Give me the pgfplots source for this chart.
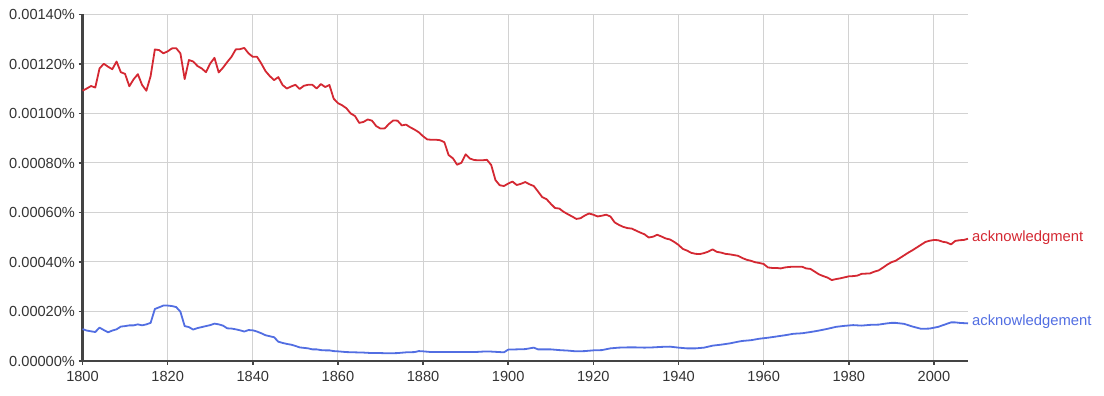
\documentclass[border=0pt]{standalone}
\usepackage{pgfplots}
\pgfplotsset{compat=1.18}
\usepackage{pgfplotstable}
\usepackage{fontspec}
\setmainfont{Liberation Sans}
\definecolor{ngred}{RGB}{212,40,50}
\definecolor{ngblue}{RGB}{82,110,226}
\definecolor{axisgray}{RGB}{68,68,68}
\definecolor{labelgray}{RGB}{51,51,51}
\definecolor{gridgray}{RGB}{210,210,210}

\pgfplotstableread{
year val
1800 0.001092
1801 0.001101
1802 0.001111
1803 0.001105
1804 0.001182
1805 0.001201
1806 0.001189
1807 0.001179
1808 0.001210
1809 0.001167
1810 0.001160
1811 0.001110
1812 0.001138
1813 0.001159
1814 0.001115
1815 0.001092
1816 0.001151
1817 0.001259
1818 0.001256
1819 0.001243
1820 0.001251
1821 0.001263
1822 0.001264
1823 0.001243
1824 0.001139
1825 0.001216
1826 0.001210
1827 0.001192
1828 0.001182
1829 0.001167
1830 0.001202
1831 0.001225
1832 0.001166
1833 0.001185
1834 0.001208
1835 0.001229
1836 0.001259
1837 0.001260
1838 0.001265
1839 0.001243
1840 0.001229
1841 0.001229
1842 0.001202
1843 0.001171
1844 0.001151
1845 0.001135
1846 0.001147
1847 0.001115
1848 0.001101
1849 0.001109
1850 0.001116
1851 0.001099
1852 0.001112
1853 0.001116
1854 0.001116
1855 0.001101
1856 0.001119
1857 0.001107
1858 0.001115
1859 0.001060
1860 0.001042
1861 0.001033
1862 0.001021
1863 0.001000
1864 0.000990
1865 0.000962
1866 0.000966
1867 0.000976
1868 0.000971
1869 0.000949
1870 0.000939
1871 0.000940
1872 0.000958
1873 0.000972
1874 0.000971
1875 0.000952
1876 0.000955
1877 0.000944
1878 0.000935
1879 0.000924
1880 0.000908
1881 0.000895
1882 0.000894
1883 0.000894
1884 0.000892
1885 0.000884
1886 0.000832
1887 0.000819
1888 0.000793
1889 0.000801
1890 0.000835
1891 0.000818
1892 0.000812
1893 0.000811
1894 0.000811
1895 0.000813
1896 0.000792
1897 0.000731
1898 0.000710
1899 0.000707
1900 0.000717
1901 0.000725
1902 0.000711
1903 0.000716
1904 0.000723
1905 0.000714
1906 0.000707
1907 0.000685
1908 0.000662
1909 0.000654
1910 0.000635
1911 0.000618
1912 0.000616
1913 0.000603
1914 0.000593
1915 0.000584
1916 0.000574
1917 0.000577
1918 0.000588
1919 0.000596
1920 0.000591
1921 0.000584
1922 0.000587
1923 0.000591
1924 0.000584
1925 0.000560
1926 0.000550
1927 0.000542
1928 0.000537
1929 0.000535
1930 0.000527
1931 0.000519
1932 0.000512
1933 0.000499
1934 0.000502
1935 0.000510
1936 0.000503
1937 0.000495
1938 0.000491
1939 0.000481
1940 0.000469
1941 0.000453
1942 0.000446
1943 0.000437
1944 0.000433
1945 0.000432
1946 0.000436
1947 0.000442
1948 0.000451
1949 0.000441
1950 0.000438
1951 0.000433
1952 0.000431
1953 0.000428
1954 0.000425
1955 0.000416
1956 0.000409
1957 0.000405
1958 0.000399
1959 0.000396
1960 0.000392
1961 0.000378
1962 0.000376
1963 0.000376
1964 0.000374
1965 0.000378
1966 0.000380
1967 0.000381
1968 0.000381
1969 0.000381
1970 0.000374
1971 0.000372
1972 0.000361
1973 0.000350
1974 0.000343
1975 0.000337
1976 0.000327
1977 0.000331
1978 0.000334
1979 0.000338
1980 0.000342
1981 0.000343
1982 0.000345
1983 0.000352
1984 0.000353
1985 0.000354
1986 0.000361
1987 0.000366
1988 0.000377
1989 0.000389
1990 0.000399
1991 0.000405
1992 0.000416
1993 0.000427
1994 0.000438
1995 0.000448
1996 0.000459
1997 0.000470
1998 0.000481
1999 0.000486
2000 0.000489
2001 0.000488
2002 0.000482
2003 0.000479
2004 0.000471
2005 0.000485
2006 0.000488
2007 0.000489
2008 0.000494
}\redtable

\pgfplotstableread{
year val
1800 0.000129
1801 0.000123
1802 0.000120
1803 0.000117
1804 0.000135
1805 0.000125
1806 0.000116
1807 0.000123
1808 0.000128
1809 0.000139
1810 0.000141
1811 0.000144
1812 0.000144
1813 0.000148
1814 0.000144
1815 0.000148
1816 0.000154
1817 0.000210
1818 0.000217
1819 0.000224
1820 0.000224
1821 0.000222
1822 0.000218
1823 0.000199
1824 0.000141
1825 0.000137
1826 0.000127
1827 0.000133
1828 0.000137
1829 0.000141
1830 0.000145
1831 0.000151
1832 0.000148
1833 0.000143
1834 0.000132
1835 0.000131
1836 0.000128
1837 0.000124
1838 0.000119
1839 0.000125
1840 0.000124
1841 0.000119
1842 0.000112
1843 0.000104
1844 0.000100
1845 0.000096
1846 0.000078
1847 0.000073
1848 0.000069
1849 0.000066
1850 0.000061
1851 0.000055
1852 0.000053
1853 0.000051
1854 0.000047
1855 0.000047
1856 0.000044
1857 0.000043
1858 0.000043
1859 0.000040
1860 0.000039
1862 0.000036
1864 0.000035
1866 0.000034
1868 0.000032
1870 0.000032
1872 0.000031
1874 0.000032
1876 0.000035
1878 0.000036
1879 0.000040
1880 0.000039
1882 0.000036
1884 0.000036
1886 0.000036
1888 0.000036
1890 0.000036
1892 0.000036
1894 0.000038
1896 0.000038
1898 0.000036
1899 0.000035
1900 0.000046
1902 0.000047
1904 0.000048
1905 0.000051
1906 0.000054
1907 0.000047
1908 0.000047
1910 0.000047
1912 0.000044
1914 0.000042
1916 0.000039
1918 0.000040
1920 0.000043
1922 0.000044
1924 0.000051
1926 0.000054
1928 0.000055
1930 0.000055
1932 0.000054
1934 0.000055
1936 0.000057
1938 0.000058
1940 0.000054
1942 0.000051
1944 0.000051
1946 0.000054
1948 0.000062
1950 0.000066
1952 0.000071
1954 0.000078
1955 0.000081
1957 0.000084
1959 0.000090
1961 0.000094
1963 0.000099
1965 0.000104
1967 0.000110
1969 0.000112
1971 0.000117
1973 0.000123
1975 0.000130
1977 0.000138
1979 0.000142
1981 0.000145
1983 0.000143
1985 0.000146
1987 0.000147
1989 0.000152
1990 0.000154
1991 0.000154
1993 0.000150
1995 0.000139
1997 0.000130
1999 0.000131
2001 0.000138
2003 0.000150
2004 0.000156
2005 0.000156
2006 0.000154
2008 0.000152
}\bluetable

\begin{document}
\begin{tikzpicture}
\useasboundingbox (0,0) rectangle (1104pt,396pt);
\begin{axis}[
  at={(82.5pt,35pt)}, anchor=south west,
  scale only axis, width=885.5pt, height=346.5pt,
  xmin=1800, xmax=2008, ymin=0, ymax=0.0014,
  xtick={1800,1820,1840,1860,1880,1900,1920,1940,1960,1980,2000},
  ytick={0,0.0002,0.0004,0.0006,0.0008,0.0010,0.0012,0.0014},
  axis x line*=bottom, axis y line*=left,
  axis line style={color=axisgray, line width=2.8pt, -},
  tick align=outside, major tick length=4pt,
  tick style={color=axisgray, line width=1.6pt},
  grid=major, major grid style={color=gridgray, line width=1pt},
  /pgf/number format/assume math mode=true,
  x tick label style={/pgf/number format/1000 sep={}, font=\fontsize{14.6}{16}\selectfont, text=labelgray, yshift=-3pt},
  y tick label style={font=\fontsize{14.6}{16}\selectfont, text=labelgray},
  yticklabel={\pgfmathprintnumber[fixed,fixed zerofill,precision=5,assume math mode=true]{\tick}\%},
  scaled y ticks=false,
  clip=false,
]
\addplot[color=ngred, line width=1.8pt, line join=round] table[x=year,y=val] {\redtable};
\addplot[color=ngblue, line width=1.8pt, line join=round] table[x=year,y=val] {\bluetable};
\node[anchor=west, text=ngred, font=\fontsize{14.8}{16}\selectfont, inner sep=0pt, xshift=4pt, yshift=1.5pt] at (axis cs:2008,0.000494) {acknowledgment};
\node[anchor=west, text=ngblue, font=\fontsize{14.8}{16}\selectfont, inner sep=0pt, xshift=4pt, yshift=1.5pt] at (axis cs:2008,0.000152) {acknowledgement};
\end{axis}
\end{tikzpicture}
\end{document}
